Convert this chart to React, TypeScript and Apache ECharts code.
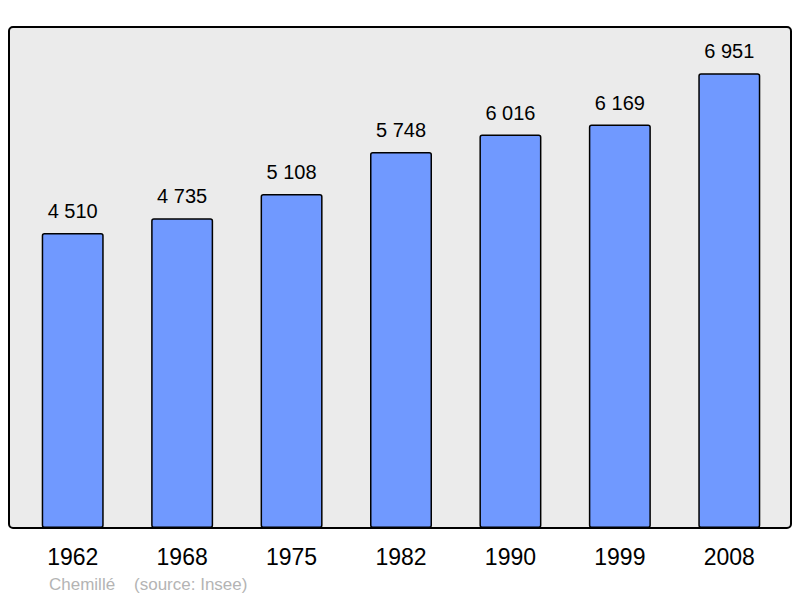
import { useEffect, useRef } from 'react';
import * as echarts from 'echarts';

const years = ['1962', '1968', '1975', '1982', '1990', '1999', '2008'];
const population = [4510, 4735, 5108, 5748, 6016, 6169, 6951];
const footerText = 'Chemillé    (source: Insee)';

const formatThousands = (v: number) =>
    String(v).replace(/\B(?=(\d{3})+(?!\d))/g, ' ');

export default function App() {
    const chartRef = useRef<HTMLDivElement>(null);

    useEffect(() => {
        if (!chartRef.current) return;
        const chart = echarts.init(chartRef.current, undefined, { renderer: 'svg' });

        chart.setOption({
            animation: false,
            textStyle: { fontFamily: 'Liberation Sans, Arial, sans-serif' },
            grid: { left: 18, right: 16, top: 27, bottom: 70 },
            graphic: [
                {
                    type: 'rect',
                    z: 0,
                    shape: { x: 9, y: 27, width: 782, height: 501, r: 4 },
                    style: { fill: '#ebebeb', stroke: '#000', lineWidth: 2 }
                },
                {
                    type: 'text',
                    left: 49,
                    top: 576,
                    style: {
                        text: footerText,
                        fill: '#b4b4b4',
                        fontSize: 17,
                        fontFamily: 'Liberation Sans, Arial, sans-serif'
                    }
                }
            ],
            xAxis: {
                type: 'category',
                data: years,
                axisLine: { show: false },
                axisTick: { show: false },
                axisLabel: { color: '#000', fontSize: 23, margin: 17 }
            },
            yAxis: {
                type: 'value',
                min: 0,
                max: 7660,
                show: false,
                splitLine: { show: false }
            },
            series: [
                {
                    type: 'bar',
                    data: population,
                    barWidth: 62,
                    z: 5,
                    itemStyle: {
                        color: '#7099ff',
                        borderColor: '#000',
                        borderWidth: 1.5,
                        borderRadius: 2
                    },
                    label: {
                        show: true,
                        position: 'top',
                        distance: 12,
                        color: '#000',
                        fontSize: 20,
                        formatter: (p: any) => formatThousands(p.value)
                    }
                }
            ]
        });

        return () => chart.dispose();
    }, []);

    return (
        <div
            ref={chartRef}
            style={{ position: 'fixed', left: 0, top: 0, width: 800, height: 598, background: '#fff' }}
        />
    );
}
